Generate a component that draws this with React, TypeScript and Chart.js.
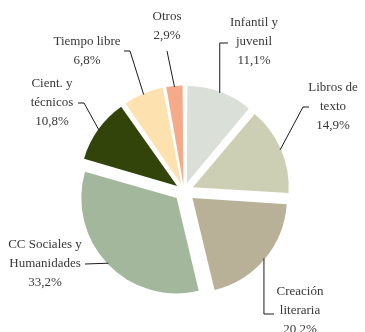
import React, { useEffect, useRef } from "react";
import { Chart, registerables } from "chart.js";

Chart.register(...registerables);

const categories: string[] = [
  "Infantil y\njuvenil",
  "Libros de\ntexto",
  "Creación\nliteraria",
  "CC Sociales y\nHumanidades",
  "Cient. y\ntécnicos",
  "Tiempo libre",
  "Otros",
];
const shares: number[] = [11.1, 14.9, 20.2, 33.2, 10.8, 6.8, 2.9];
const sliceColors: string[] = [
  "#DADFD8",
  "#CDCFB4",
  "#B9B098",
  "#A2B79C",
  "#33440A",
  "#FDE1AE",
  "#F5AA8A",
];

// label layout: text block centre (middle of block) and leader path (null = use edge coordinate)
type P = [number | null, number | null];
const labelLayout: { x: number; y: number; path: P[] }[] = [
  { x: 254, y: 42, path: [[228, 43], [null, 43]] },
  { x: 333, y: 107, path: [[309, 107], [303, 107]] },
  { x: 300, y: 311, path: [[274, 314], [null, 314]] },
  { x: 45, y: 264, path: [[85, 264]] },
  { x: 52, y: 103, path: [[78, 103], [84, 103]] },
  { x: 87, y: 51.5, path: [[124, 51], [130, 51]] },
  { x: 167, y: 26.5, path: [[167, 51]] },
];

const EXPLODE = 11.5; // visual explode distance in px
const LINE_H = 19;
const FONT = '13px "Liberation Serif", "DejaVu Serif", serif';

function fixFor(circ: number) {
  return 1 - Math.sin(Math.min(Math.PI, circ));
}

const labelPlugin = {
  id: "pieLabels",
  afterDatasetsDraw(chart: any) {
    const ctx = chart.ctx;
    const meta = chart.getDatasetMeta(0);
    ctx.save();
    ctx.font = FONT;
    ctx.textAlign = "center";
    ctx.textBaseline = "middle";
    meta.data.forEach((arc: any, i: number) => {
      const lay = labelLayout[i];
      if (!lay) return;
      const half = (arc.startAngle + arc.endAngle) / 2;
      const circ = arc.endAngle - arc.startAngle;
      const off = (arc.options.offset || 0) / 4;
      const t = off * (1 + fixFor(circ));
      const ex = arc.x + Math.cos(half) * (t + arc.outerRadius - 1);
      const ey = arc.y + Math.sin(half) * (t + arc.outerRadius - 1);
      // leader
      ctx.strokeStyle = "#1a1a1a";
      ctx.lineWidth = 1;
      ctx.beginPath();
      lay.path.forEach((p, k) => {
        const px = p[0] === null ? ex : p[0];
        const py = p[1] === null ? ey : p[1];
        if (k === 0) ctx.moveTo(px, py);
        else ctx.lineTo(px, py);
      });
      ctx.lineTo(ex, ey);
      ctx.stroke();
      // text
      const lines = categories[i].split("\n");
      lines.push(shares[i].toFixed(1).replace(".", ",") + "%");
      const n = lines.length;
      ctx.fillStyle = "#383838";
      lines.forEach((ln, k) => {
        const y = lay.y + (k - (n - 1) / 2) * LINE_H;
        ctx.fillText(ln, lay.x, y);
      });
    });
    ctx.restore();
  },
};

export default function App() {
  const ref = useRef<HTMLCanvasElement | null>(null);
  useEffect(() => {
    document.body.style.margin = "0";
    if (!ref.current) return;
    const total = shares.reduce((a, b) => a + b, 0);
    const chart = new Chart(ref.current, {
      type: "pie",
      data: {
        labels: categories.map((c) => c.replace("\n", " ")),
        datasets: [
          {
            data: shares,
            backgroundColor: sliceColors,
            borderWidth: 0,
            offset: (c: any) => {
              const v = shares[c.dataIndex] ?? 0;
              const circ = (v / total) * Math.PI * 2;
              return (EXPLODE * 4) / (1 + fixFor(circ));
            },
          } as any,
        ],
      },
      options: {
        responsive: false,
        animation: false,
        radius: 94,
        layout: { padding: { left: 18, right: 15, top: 60, bottom: 10 } },
        plugins: {
          legend: { display: false },
          tooltip: { enabled: false },
        },
        events: [],
      } as any,
      plugins: [labelPlugin],
    });
    return () => chart.destroy();
  }, []);
  return (
    <div style={{ width: 365, height: 332, background: "#fff" }}>
      <canvas ref={ref} width={365} height={332} style={{ display: "block" }} />
    </div>
  );
}
